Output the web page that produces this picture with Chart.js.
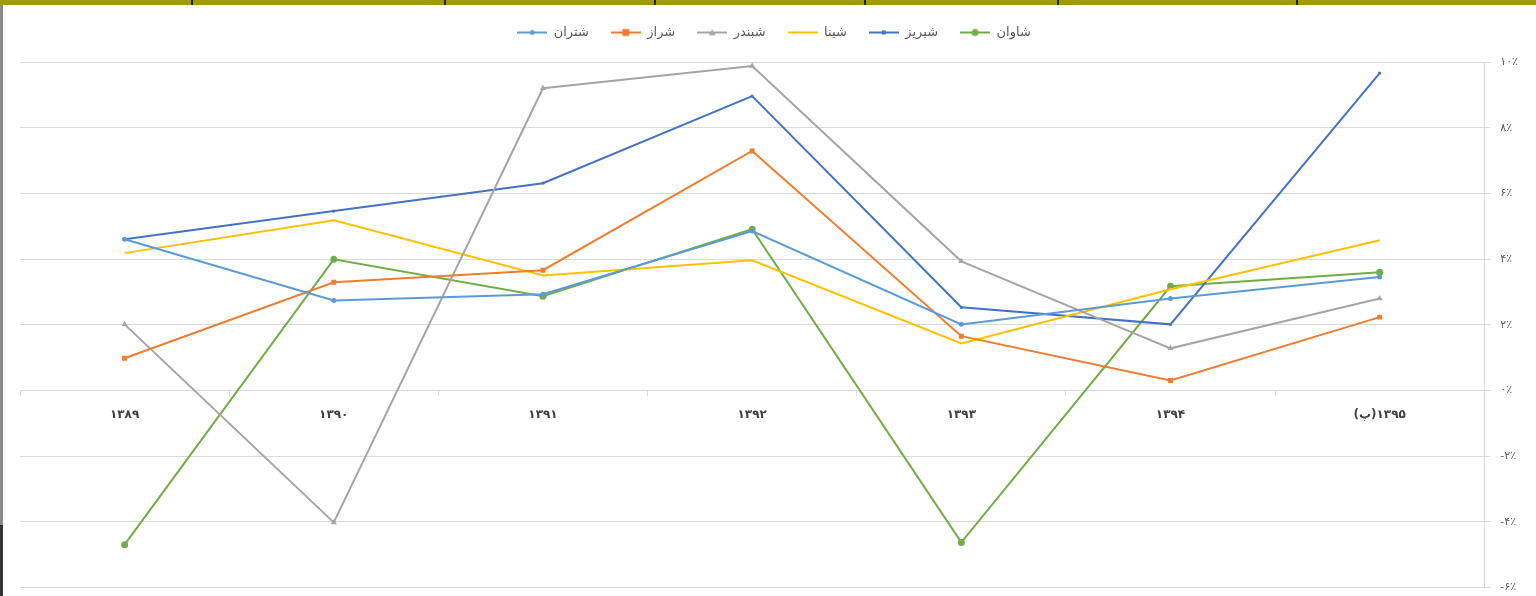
<!DOCTYPE html>
<html>
<head>
<meta charset="utf-8">
<script src="https://cdn.jsdelivr.net/npm/chart.js@4.4.1/dist/chart.umd.min.js"></script>
<style>
  html, body { margin: 0; padding: 0; background: #fff; }
  #wrap { position: relative; width: 1536px; height: 596px; overflow: hidden; }
  #topbar { position: absolute; left: 0; top: 0; width: 1536px; height: 5px; background: #9f9c00; }
  .sep { position: absolute; top: 0; width: 2px; height: 5px; background: #222; }
  #leftbar { position: absolute; left: 0; top: 5px; width: 3px; height: 591px; background: linear-gradient(#8a8a8a 0, #8a8a8a 88%, #333 88%, #333 100%); }
  #chart { position: absolute; left: 0; top: 0; }
</style>
</head>
<body>
<div id="wrap">
  <canvas id="chart" width="1536" height="604"></canvas>
  <div id="topbar"></div>
  <div class="sep" style="left:191px"></div>
  <div class="sep" style="left:444px"></div>
  <div class="sep" style="left:654px"></div>
  <div class="sep" style="left:864px"></div>
  <div class="sep" style="left:1057px"></div>
  <div class="sep" style="left:1296px"></div>
  <div id="leftbar"></div>
</div>
<script>
// years (last one is preliminary)
var categories = ['۱۳۸۹', '۱۳۹۰', '۱۳۹۱', '۱۳۹۲', '۱۳۹۳', '۱۳۹۴', '\u202D(پ)۱۳۹۵\u202C'];

var shTehran  = [4.60, 2.74, 2.93, 4.85, 2.01, 2.80, 3.45];
var shShiraz  = [0.98, 3.29, 3.66, 7.29, 1.65, 0.30, 2.23];
var shBandar  = [2.01, -4.02, 9.20, 9.88, 3.93, 1.28, 2.80];
var shSina    = [4.18, 5.18, 3.50, 3.96, 1.43, 3.08, 4.57];
var shTabriz  = [4.60, 5.46, 6.31, 8.96, 2.53, 2.01, 9.66];
var shAvan    = [-4.70, 3.99, 2.87, 4.91, -4.63, 3.17, 3.60];

var yTickLabels = ['-۶٪', '-۴٪', '-۲٪', '۰٪', '۲٪', '۴٪', '۶٪', '۸٪', '۱۰٪'];
var yMin = -6, yMax = 10, yStep = 2;

var FONT = "'DejaVu Sans', sans-serif";

// legend sample: short line with marker in the middle, like excel
function legendSample(color, style, r) {
    var c = document.createElement('canvas');
    c.width = 30; c.height = 10;
    var ctx = c.getContext('2d');
    ctx.strokeStyle = color;
    ctx.lineWidth = 2;
    ctx.beginPath(); ctx.moveTo(0, 5); ctx.lineTo(30, 5); ctx.stroke();
    ctx.fillStyle = color;
    if (style === 'circle') {
        ctx.beginPath(); ctx.arc(15, 5, r, 0, Math.PI * 2); ctx.fill();
    } else if (style === 'rect') {
        ctx.fillRect(15 - r, 5 - r, r * 2, r * 2);
    } else if (style === 'triangle') {
        ctx.beginPath(); ctx.moveTo(15, 5 - r); ctx.lineTo(15 + r, 5 + r * 0.8); ctx.lineTo(15 - r, 5 + r * 0.8); ctx.closePath(); ctx.fill();
    }
    return c;
}

var series = [
    { label: 'شتران', data: shTehran, color: '#5b9bd5', style: 'circle',   r: 2.5 },
    { label: 'شراز',  data: shShiraz, color: '#ed7d31', style: 'rect',     r: 3.5 },
    { label: 'شبندر', data: shBandar, color: '#a5a5a5', style: 'triangle', r: 3.5 },
    { label: 'شینا',  data: shSina,   color: '#ffc000', style: 'none',     r: 0 },
    { label: 'شبریز', data: shTabriz, color: '#4472c4', style: 'rect',     r: 2 },
    { label: 'شاوان', data: shAvan,   color: '#70ad47', style: 'circle',   r: 3.5 }
];

var datasets = series.map(function(s) {
    return {
        label: s.label,
        data: s.data,
        borderColor: s.color,
        backgroundColor: s.color,
        borderWidth: 2,
        pointStyle: s.style === 'none' ? false : s.style,
        pointRadius: s.r,
        pointBorderWidth: 0,
        tension: 0,
        sample: legendSample(s.color, s.style, s.r)
    };
});

// extra room between the legend and the plot
var legendGap = {
    id: 'legendGap',
    beforeInit: function(chart) {
        var fit = chart.legend.fit;
        chart.legend.fit = function() {
            fit.bind(chart.legend)();
            this.height += 13;
        };
    }
};

new Chart(document.getElementById('chart'), {
    type: 'line',
    data: { labels: categories, datasets: datasets },
    plugins: [legendGap],
    options: {
        responsive: false,
        animation: false,
        layout: { padding: { left: 20, right: 8, top: 4, bottom: 0 } },
        plugins: {
            tooltip: { enabled: false },
            legend: {
                position: 'top',
                labels: {
                    font: { family: FONT, size: 13 },
                    color: '#595959',
                    usePointStyle: true,
                    pointStyleWidth: 30,
                    boxHeight: 10,
                    padding: 22,
                    generateLabels: function(chart) {
                        return chart.data.datasets.map(function(ds, i) {
                            return {
                                text: ds.label,
                                pointStyle: ds.sample,
                                fillStyle: ds.borderColor,
                                strokeStyle: ds.borderColor,
                                lineWidth: 0,
                                fontColor: '#595959',
                                datasetIndex: i,
                                hidden: false
                            };
                        });
                    }
                }
            }
        },
        scales: {
            x: {
                position: { y: 0 },
                offset: true,
                grid: {
                    offset: true,
                    drawOnChartArea: false,
                    drawTicks: true,
                    tickLength: 5,
                    color: '#d9d9d9'
                },
                border: { display: true, color: '#d9d9d9', width: 1 },
                ticks: {
                    font: { family: FONT, size: 12, weight: 'bold' },
                    color: '#404040',
                    padding: 12,
                    maxRotation: 0
                }
            },
            y: {
                position: 'right',
                min: yMin,
                max: yMax,
                grid: {
                    color: '#d9d9d9',
                    drawTicks: true,
                    tickLength: 6
                },
                border: { display: true, color: '#d9d9d9' },
                ticks: {
                    stepSize: yStep,
                    font: { family: FONT, size: 11 },
                    color: '#595959',
                    padding: 10,
                    callback: function(value) {
                        return yTickLabels[Math.round((value - yMin) / yStep)];
                    }
                }
            }
        }
    }
});
</script>
</body>
</html>
